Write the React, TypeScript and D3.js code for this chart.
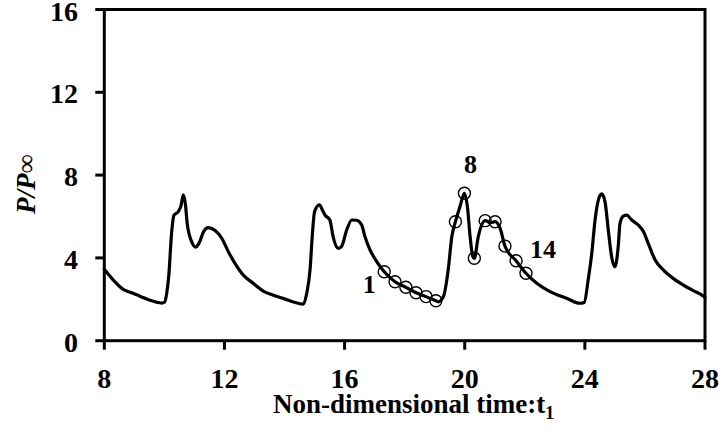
import React from "react";
import * as d3 from "d3";

// Curve data
const timeValues = [
  8.0, 8.3, 8.63, 8.86, 9.19, 9.52, 9.91, 10.0, 10.08, 10.15, 10.24, 10.32, 10.46, 10.55, 10.63, 10.7, 10.76,
  10.91, 11.04, 11.15, 11.3, 11.46, 11.69, 11.91, 12.13, 12.35, 12.63, 12.96, 13.29, 13.63, 14.0, 14.3,
  14.63, 14.74, 14.85, 14.93, 15.0, 15.16, 15.29, 15.35, 15.51, 15.62, 15.79, 15.9, 16.07, 16.24, 16.4,
  16.57, 16.68, 16.85, 17.07, 17.32, 17.68, 18.04, 18.38, 18.71, 19.04, 19.12, 19.29, 19.45, 19.57, 19.69,
  19.84, 19.99, 20.09, 20.18, 20.27, 20.32, 20.45, 20.68, 20.85, 21.01, 21.18, 21.34, 21.71, 22.04, 22.4,
  22.84, 23.39, 23.84, 23.98, 24.11, 24.23, 24.34, 24.45, 24.56, 24.67, 24.78, 24.89, 25.0, 25.11, 25.17,
  25.28, 25.39, 25.56, 25.78, 25.95, 26.11, 26.34, 26.61, 26.94, 27.28, 27.61, 27.94, 28.0,
];
const pressureValues = [
  3.45, 2.93, 2.48, 2.34, 2.15, 1.95, 1.82, 1.85, 2.3, 3.2, 5.2, 6.07, 6.23, 6.5, 7.04, 6.6, 5.67,
  4.78, 4.52, 4.7, 5.25, 5.46, 5.32, 4.95, 4.3, 3.74, 3.17, 2.77, 2.4, 2.2, 2.02, 1.87,
  1.77, 2.29, 3.42, 5.19, 6.23, 6.56, 6.23, 6.07, 5.83, 5.02, 4.46, 4.55, 5.35, 5.83, 5.82,
  5.59, 5.02, 4.38, 3.82, 3.33, 2.85, 2.58, 2.32, 2.13, 1.93, 1.88, 2.13, 3.42, 5.02, 5.75,
  6.47, 7.12, 6.47, 5.02, 4.06, 3.98, 5.02, 5.8, 5.7, 5.75, 5.43, 4.57, 3.86, 3.26, 2.77,
  2.37, 2.05, 1.81, 1.85, 2.93, 4.22, 5.83, 6.8, 7.09, 6.72, 5.35, 4.06, 3.57, 4.54, 5.67,
  6.02, 6.07, 5.83, 5.59, 5.27, 4.7, 3.9, 3.42, 3.01, 2.69, 2.42, 2.16, 2.08,
];

// Marked sample points 1..14
const markerTime = [17.32, 17.68, 18.04, 18.38, 18.71, 19.04, 19.69, 19.99, 20.32, 20.68, 21.01, 21.34, 21.71, 22.04];
const markerPressure = [3.33, 2.85, 2.58, 2.32, 2.13, 1.93, 5.75, 7.12, 3.98, 5.8, 5.75, 4.57, 3.86, 3.26];

// Labelled markers (index into marker arrays) and their text
const labelIndex = [0, 7, 13];
const labelText = ["1", "8", "14"];
const labelDx = [-15, 6, 17];
const labelDy = [21, -20, -15];

const xTicks = [8, 12, 16, 20, 24, 28];
const yTicks = [0, 4, 8, 12, 16];

const W = 723;
const H = 434;
const left = 104.3;
const right = 705;
const top = 9.5;
const bottom = 340.7;

const FONT = "'Liberation Serif', 'Times New Roman', serif";

export default function App() {
  const x = d3.scaleLinear().domain([8, 28]).range([left, right]);
  const y = d3.scaleLinear().domain([0, 16]).range([bottom, top]);

  const pts: [number, number][] = timeValues.map((t, i) => [t, pressureValues[i]]);
  const line = d3
    .line<[number, number]>()
    .x((d) => x(d[0]))
    .y((d) => y(d[1]))
    .curve(d3.curveMonotoneX);

  return (
    <svg
      width={W}
      height={H}
      style={{ position: "absolute", left: 0, top: 0, display: "block", background: "#fff" }}
    >
      <rect x={0} y={0} width={W} height={H} fill="#fff" />
      {/* data line */}
      <path d={line(pts) || ""} fill="none" stroke="#000" strokeWidth={3.2} strokeLinejoin="round" strokeLinecap="round" />
      {/* markers */}
      {markerTime.map((t, i) => (
        <circle key={i} cx={x(t)} cy={y(markerPressure[i])} r={6} fill="none" stroke="#000" strokeWidth={1.4} />
      ))}
      {/* frame */}
      <rect x={left} y={top} width={right - left} height={bottom - top} fill="none" stroke="#000" strokeWidth={3} />
      {/* x ticks */}
      {xTicks.map((t) => (
        <g key={"x" + t}>
          <line x1={x(t)} x2={x(t)} y1={bottom} y2={bottom + 9} stroke="#000" strokeWidth={3} />
          <text
            x={x(t)}
            y={388}
            textAnchor="middle"
            fontFamily={FONT}
            fontWeight="bold"
            fontSize={28}
            fill="#000"
          >
            {t}
          </text>
        </g>
      ))}
      {/* y ticks */}
      {yTicks.map((v) => (
        <g key={"y" + v}>
          <line x1={left - 9} x2={left} y1={y(v)} y2={y(v)} stroke="#000" strokeWidth={3} />
          <text
            x={78}
            y={y(v) + 11}
            textAnchor="end"
            fontFamily={FONT}
            fontWeight="bold"
            fontSize={28}
            fill="#000"
          >
            {v}
          </text>
        </g>
      ))}
      {/* marker labels */}
      {labelIndex.map((mi, k) => (
        <text
          key={"l" + k}
          x={x(markerTime[mi]) + labelDx[k]}
          y={y(markerPressure[mi]) + labelDy[k]}
          textAnchor="middle"
          fontFamily={FONT}
          fontWeight="bold"
          fontSize={26}
          fill="#000"
        >
          {labelText[k]}
        </text>
      ))}
      {/* x axis title */}
      <text x={273} y={413} fontFamily={FONT} fontWeight="bold" fontSize={27} fill="#000">
        Non-dimensional time:t
        <tspan fontSize={18} dy={6}>1</tspan>
      </text>
      {/* y axis title */}
      <text
        transform="translate(35,184) rotate(-90)"
        textAnchor="middle"
        fontFamily={FONT}
        fontWeight="bold"
        fontSize={27}
        fill="#000"
      >
        <tspan fontStyle="italic">P/P</tspan>
        <tspan fontWeight="normal">∞</tspan>
      </text>
    </svg>
  );
}
